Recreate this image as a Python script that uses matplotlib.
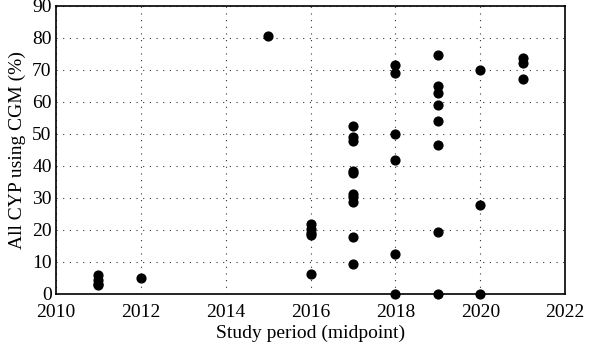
import matplotlib.pyplot as plt

plt.rcParams['font.family'] = ['Liberation Serif', 'DejaVu Serif']

years_2011 = [2011, 2011, 2011, 2011]
vals_2011 = [5.8, 4.3, 3.2, 2.7]
years_2012 = [2012]
vals_2012 = [4.9]
years_2015 = [2015]
vals_2015 = [80.6]
years_2016 = [2016] * 5
vals_2016 = [22.0, 20.2, 19.1, 18.4, 6.2]
years_2017 = [2017] * 10
vals_2017 = [52.5, 48.9, 47.8, 38.5, 37.7, 31.4, 30.2, 28.8, 17.9, 9.4]
years_2018 = [2018] * 6
vals_2018 = [71.4, 68.9, 50.1, 41.8, 12.5, 0.0]
years_2019 = [2019] * 8
vals_2019 = [74.6, 65.1, 62.8, 59.2, 53.9, 46.5, 19.4, 0.0]
years_2020 = [2020] * 3
vals_2020 = [70.1, 27.8, 0.0]
years_2021 = [2021] * 3
vals_2021 = [73.8, 72.3, 67.3]

x = (years_2011 + years_2012 + years_2015 + years_2016 + years_2017
     + years_2018 + years_2019 + years_2020 + years_2021)
y = (vals_2011 + vals_2012 + vals_2015 + vals_2016 + vals_2017
     + vals_2018 + vals_2019 + vals_2020 + vals_2021)

fig = plt.figure(figsize=(6, 3.5), dpi=100)
ax = fig.add_axes([0.093, 0.16, 0.849, 0.823])

ax.scatter(x, y, s=40, color='black', zorder=3, clip_on=False)

ax.set_xlim(2010, 2022)
ax.set_ylim(0, 90)
ax.set_xticks(range(2010, 2023, 2))
ax.set_yticks(range(0, 91, 10))
ax.tick_params(length=0, labelsize=14)
ax.tick_params(axis='x', pad=7)
ax.tick_params(axis='y', pad=3)
ax.grid(True, linestyle=(0, (1, 5)), color='black', linewidth=0.8, alpha=0.8)
for s in ax.spines.values():
    s.set_linewidth(1.2)

ax.set_xlabel("Study period (midpoint)", fontsize=14, labelpad=3)
ax.set_ylabel("All CYP using CGM (%)", fontsize=14, labelpad=4)

fig.savefig("out.png", dpi=100)
